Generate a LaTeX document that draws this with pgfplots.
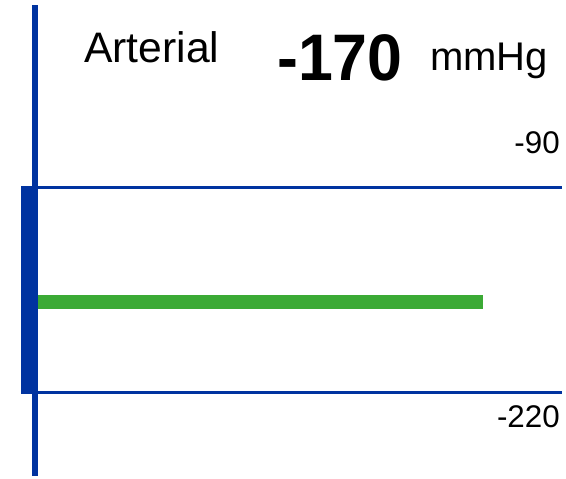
\documentclass[border=0pt]{standalone}
\usepackage{pgfplots}
\pgfplotsset{compat=1.18}
\usepackage{fontspec}
\setmainfont{Liberation Sans}
\definecolor{gblue}{RGB}{0,51,160}
\definecolor{ggreen}{RGB}{59,170,53}
\begin{document}
\begin{tikzpicture}
\begin{axis}[
  scale only axis, width=424.5pt, height=358.5pt,
  xmin=0, xmax=566, ymin=0, ymax=478, y dir=reverse,
  enlargelimits=false, hide axis, clip=false]
\path (axis cs:0,0) rectangle (axis cs:566,478);
% thin vertical axis line
\addplot[draw=none, fill=gblue] coordinates {(32,5)(38,5)(38,476)(32,476)} -- cycle;
% thick range bar
\addplot[draw=none, fill=gblue] coordinates {(21,186)(38,186)(38,394)(21,394)} -- cycle;
% limit lines (-90 and -220)
\addplot[draw=none, fill=gblue] coordinates {(33,186)(562,186)(562,189)(33,189)} -- cycle;
\addplot[draw=none, fill=gblue] coordinates {(33,391)(562,391)(562,394)(33,394)} -- cycle;
% value bar
\addplot[draw=none, fill=ggreen] coordinates {(38,295)(483,295)(483,309)(38,309)} -- cycle;
\node[anchor=base west, inner sep=0pt, font=\fontsize{32pt}{36pt}\selectfont] at (axis cs:84,63) {Arterial};
\node[anchor=base west, inner sep=0pt, font=\fontsize{47pt}{54pt}\selectfont\bfseries] at (axis cs:277,80) {\scalebox{1}[1.05]{-170}};
\node[anchor=base west, inner sep=0pt, font=\fontsize{30pt}{34pt}\selectfont] at (axis cs:430,70) {mmHg};
\node[anchor=base east, inner sep=0pt, font=\fontsize{23.5pt}{26pt}\selectfont] at (axis cs:560,153) {-90};
\node[anchor=base east, inner sep=0pt, font=\fontsize{23.5pt}{26pt}\selectfont] at (axis cs:560,427) {-220};
\end{axis}
\end{tikzpicture}
\end{document}
